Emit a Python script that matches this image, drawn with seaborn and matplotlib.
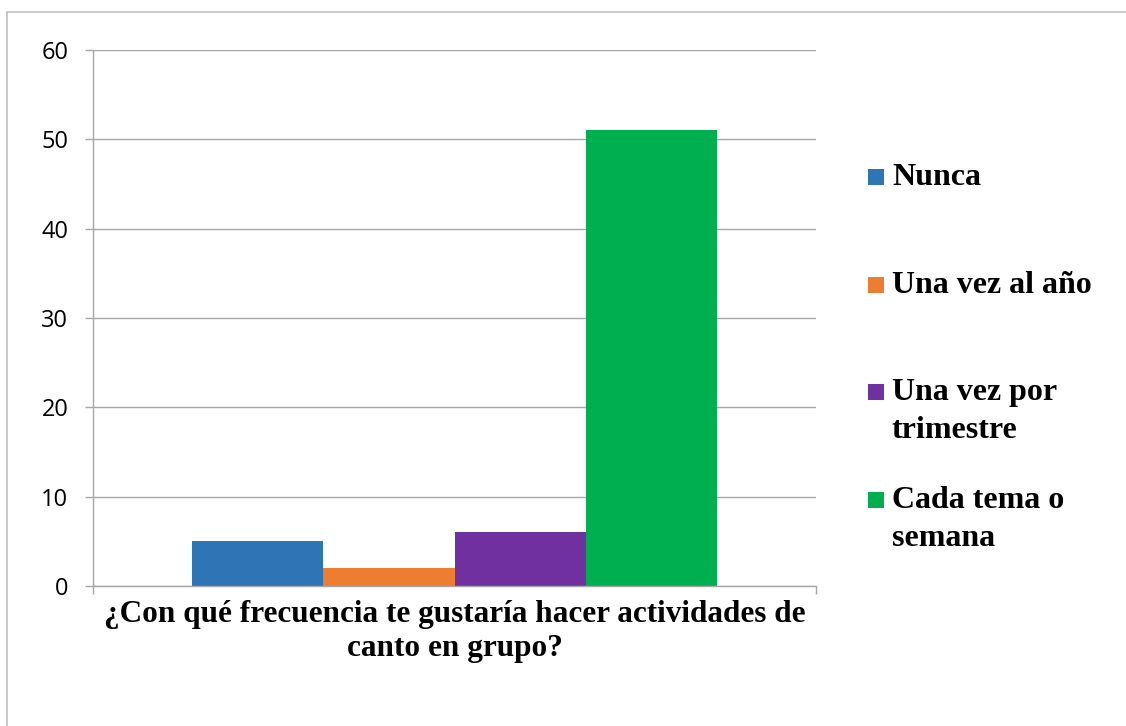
import matplotlib
matplotlib.use("Agg")
import matplotlib.pyplot as plt
import seaborn as sns
import pandas as pd
from matplotlib.patches import Rectangle

# Data
question = "¿Con qué frecuencia te gustaría hacer actividades de\ncanto en grupo?"
responses = ["Nunca", "Una vez al año", "Una vez por trimestre", "Cada tema o semana"]
legend_labels = ["Nunca", "Una vez al año", "Una vez por\ntrimestre", "Cada tema o\nsemana"]
counts = [5, 2, 6, 51]
colors = ["#2E75B6", "#ED7D31", "#7030A0", "#00B050"]
y_ticks = [0, 10, 20, 30, 40, 50, 60]

df = pd.DataFrame({"pregunta": [question] * len(responses),
                   "respuesta": responses,
                   "n": counts})

sns.set_theme(style="white")
plt.rcParams["font.family"] = ["Open Sans", "DejaVu Sans"]

grid_col = "#A6A6A6"
W, H = 1126, 726
fig = plt.figure(figsize=(W / 100, H / 100), dpi=100)
ax = fig.add_axes([93 / W, 1 - 586 / H, (816 - 93) / W, (586 - 50) / H])

sns.barplot(data=df, x="pregunta", y="n", hue="respuesta", hue_order=responses,
            palette=colors, width=0.7275, linewidth=0, saturation=1,
            legend=False, ax=ax)

ax.set_xlim(-0.5, 0.5)
ax.set_ylim(0, 60)
ax.set_yticks(y_ticks)
ax.yaxis.grid(True, color=grid_col, linewidth=1.0)
ax.set_axisbelow(True)
ax.set_xlabel("")
ax.set_ylabel("")

for side in ["top", "right"]:
    ax.spines[side].set_visible(False)
for side in ["left", "bottom"]:
    ax.spines[side].set_color(grid_col)
    ax.spines[side].set_linewidth(1.0)

ax.tick_params(axis="y", which="major", left=True, length=5.8, width=1.0,
               color=grid_col, pad=12, labelsize=17, labelcolor="black")
ax.tick_params(axis="x", which="major", bottom=False, length=0, pad=10)
ax.set_xticks([-0.5, 0.5], minor=True)
ax.tick_params(axis="x", which="minor", bottom=True, length=5.8, width=1.0,
               color=grid_col)
for lbl in ax.get_xticklabels():
    lbl.set_fontfamily(["Liberation Serif", "DejaVu Serif"])
    lbl.set_fontweight("bold")
    lbl.set_fontsize(22.5)
    lbl.set_linespacing(1.25)
    lbl.set_color("black")

# legend drawn by hand so multi-line entries keep marker on the first line
leg_y = [177, 285, 392, 500]
for lab, col, yy in zip(legend_labels, colors, leg_y):
    fig.add_artist(Rectangle((868 / W, 1 - (yy + 8) / H), 16 / W, 16 / H,
                             transform=fig.transFigure, facecolor=col,
                             edgecolor="none"))
    fig.text(892 / W, 1 - (yy - 14) / H, lab, ha="left", va="top",
             fontsize=23, fontweight="bold", linespacing=1.4,
             family=["Liberation Serif", "DejaVu Serif"], color="black")

# outer chart border (only left and top edges visible in the crop)
fig.add_artist(Rectangle((7 / W, -0.1), 1.2, 1 - 12 / H + 0.1,
                         transform=fig.transFigure, facecolor="none",
                         edgecolor="#BFBFBF", linewidth=1.2, clip_on=False))

fig.savefig("out.png", dpi=100)
